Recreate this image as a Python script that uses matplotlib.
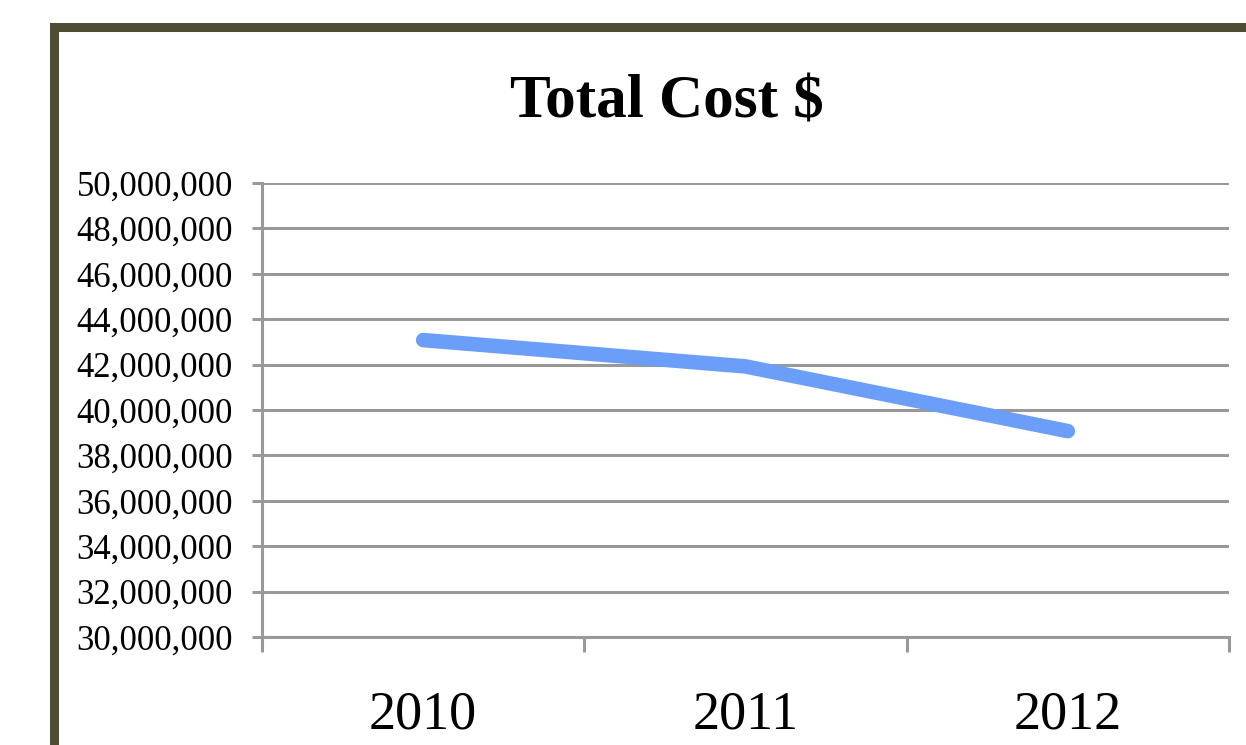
import matplotlib.pyplot as plt
from matplotlib.patches import Rectangle
from matplotlib.ticker import FuncFormatter

# Total cost per year
years = ['2010', '2011', '2012']
total_cost = [43080000, 41920000, 39070000]

plt.rcParams['font.family'] = ['Liberation Serif', 'DejaVu Serif']

fig = plt.figure(figsize=(12.46, 7.45), dpi=100)
ax = fig.add_axes([262 / 1246, 1 - 637 / 745, (1229 - 262) / 1246, (637 - 183) / 745])

# dark frame round the chart (runs off the right and bottom edges)
fig.patches.append(Rectangle((54 / 1246, -0.2), 2, 1.2 - 27 / 745, transform=fig.transFigure,
                             fill=False, edgecolor='#4d4d33', linewidth=6.5, zorder=0))

x = list(range(len(years)))
ax.plot(x, total_cost, color='#6a9ef9', linewidth=10.5, solid_capstyle='round',
        solid_joinstyle='round', zorder=3)

ax.set_xlim(-0.5, 2.5)
ax.set_ylim(30000000, 50000000)
ax.set_yticks(range(30000000, 50000001, 2000000))
ax.yaxis.set_major_formatter(FuncFormatter(lambda v, p: f'{int(v):,}'))

ax.set_xticks([-0.5, 0.5, 1.5, 2.5])
ax.set_xticklabels([])
ax.set_xticks(x, minor=True)
ax.set_xticklabels(years, minor=True)

grey = '#999999'
ax.grid(axis='y', color=grey, linewidth=2.2)
ax.set_axisbelow(True)
for s in ['top', 'right']:
    ax.spines[s].set_visible(False)
for s in ['left', 'bottom']:
    ax.spines[s].set_color(grey)
    ax.spines[s].set_linewidth(2.2)

ax.tick_params(axis='y', length=7, width=2.2, color=grey, labelsize=25, pad=14)
ax.tick_params(axis='x', which='major', length=11, width=2.2, color=grey)
ax.tick_params(axis='x', which='minor', length=0, labelsize=39, pad=38)

fig.text(667 / 1246, 1 - 102 / 745, 'Total Cost $', ha='center', va='center',
         fontsize=44, fontweight='bold')

fig.savefig('out.png', dpi=100, facecolor='white')
